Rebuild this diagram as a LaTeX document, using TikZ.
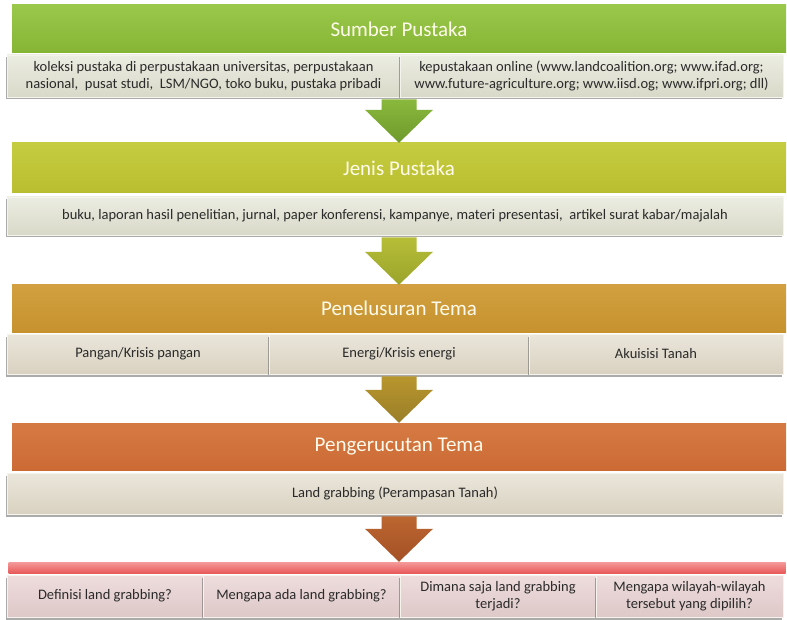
\documentclass[tikz,border=0pt]{standalone}
\usepackage{fontspec}
\setmainfont{Carlito}
\usetikzlibrary{calc,shadows}
\definecolor{hAtop}{HTML}{9AC84A}\definecolor{hAbot}{HTML}{86B536}
\definecolor{hBtop}{HTML}{C6CC40}\definecolor{hBbot}{HTML}{B8BE2E}
\definecolor{hCtop}{HTML}{D2A040}\definecolor{hCbot}{HTML}{C6922E}
\definecolor{hDtop}{HTML}{D67A44}\definecolor{hDbot}{HTML}{CC6A34}
\definecolor{hEtop}{HTML}{F59A9A}\definecolor{hEbot}{HTML}{E85A5A}
\definecolor{aAtop}{HTML}{8AB83C}\definecolor{aAbot}{HTML}{6E9A2C}
\definecolor{aBtop}{HTML}{B6BE38}\definecolor{aBbot}{HTML}{9AA42A}
\definecolor{aCtop}{HTML}{B8962E}\definecolor{aCbot}{HTML}{9A7E28}
\definecolor{aDtop}{HTML}{BC6630}\definecolor{aDbot}{HTML}{A45026}
\definecolor{sGtop}{HTML}{ECEDE2}\definecolor{sGbot}{HTML}{D8D9C8}
\definecolor{sBtop}{HTML}{EAE6DA}\definecolor{sBbot}{HTML}{D9D2C2}
\definecolor{sPtop}{HTML}{EEDCDC}\definecolor{sPbot}{HTML}{DEC8C8}
\definecolor{subline}{HTML}{F4F4EC}
\definecolor{subtext}{HTML}{2A2A2A}
\definecolor{hdrtext}{HTML}{FFFBEC}
\newcommand\flowarrow[4]{%
  \shade[top color=#3, bottom color=#4]
    ($(#1)+(-17.5,0)$) -- ($(#1)+(17.5,0)$) -- ($(#2)+(17.5,-33)$) --
    ($(#2)+(34,-33)$) -- (#2) -- ($(#2)+(-34,-33)$) --
    ($(#2)+(-17.5,-33)$) -- cycle;}
\begin{document}
\begin{tikzpicture}[x=1pt,y=-1pt,
  hdr/.style={rectangle, inner sep=0pt, text=hdrtext,
    font=\fontsize{21}{24}\selectfont, minimum width=774pt},
  sub/.style={rectangle, inner sep=0pt, align=center, text=subtext,
    font=\fontsize{14.5}{17}\selectfont, draw=subline, line width=0.6pt,
    drop shadow={shadow xshift=-0.8pt, shadow yshift=-2.5pt,
      fill=black!60, opacity=0.55}},
  subG/.style={sub, top color=sGtop, bottom color=sGbot},
  subB/.style={sub, top color=sBtop, bottom color=sBbot},
  subP/.style={sub, top color=sPtop, bottom color=sPbot},
]
\useasboundingbox (0,0) rectangle (787,620);
\fill[white] (0,0) rectangle (787,620);

% headers
\node[hdr, minimum height=48pt, top color=hAtop, bottom color=hAbot] (h1) at (399,29) {Sumber Pustaka};
\node[hdr, minimum height=50pt, top color=hBtop, bottom color=hBbot] (h2) at (399,168) {Jenis Pustaka};
\node[hdr, minimum height=47pt, top color=hCtop, bottom color=hCbot] (h3) at (399,308.5) {Penelusuran Tema};
\node[hdr, minimum height=47pt, top color=hDtop, bottom color=hDbot] (h4) at (399,446.5) {Pengerucutan Tema};
\node[hdr, minimum width=777pt, minimum height=11pt, top color=hEtop, bottom color=hEbot] (h5) at (397,567.5) {};

% sub boxes
\node[subG, minimum width=393pt, minimum height=42pt] (r1a) at (203.5,76)
  {koleksi pustaka di perpustakaan universitas, perpustakaan\\nasional,\ \ pusat studi,\ \ LSM/NGO, toko buku, pustaka pribadi};
\node[subG, minimum width=383pt, minimum height=42pt] (r1b) at (591.5,76)
  {kepustakaan online (www.landcoalition.org; www.ifad.org;\\www.future-agriculture.org; www.iisd.og; www.ifpri.org; dll)};
\node[subG, minimum width=776pt, minimum height=38pt] (r2) at (395,216)
  {buku, laporan hasil penelitian, jurnal, paper konferensi, kampanye, materi presentasi,\ \ artikel surat kabar/majalah};
\node[subB, minimum width=262pt, minimum height=40pt] (r3a) at (138,354) {Pangan/Krisis pangan};
\node[subB, minimum width=260pt, minimum height=40pt] (r3b) at (399,354) {Energi/Krisis energi};
\node[subB, minimum width=254pt, minimum height=40pt] (r3c) at (656,354) {Akuisisi Tanah};
\node[subB, minimum width=776pt, minimum height=41pt] (r4) at (395,493.5) {Land grabbing (Perampasan Tanah)};
\node[subP, minimum width=196pt, minimum height=42pt] (r5a) at (105,596) {Definisi land grabbing?};
\node[subP, minimum width=197pt, minimum height=42pt] (r5b) at (301.5,596) {Mengapa ada land grabbing?};
\node[subP, minimum width=196pt, minimum height=42pt] (r5c) at (498,596) {Dimana saja land grabbing\\terjadi?};
\node[subP, minimum width=187pt, minimum height=42pt] (r5d) at (689.5,596) {Mengapa wilayah-wilayah\\tersebut yang dipilih?};

% arrows
\coordinate (s1) at ($(h2.north |- r1a.south)+(0,2)$);
\coordinate (s2) at ($(h3.north |- r2.south)+(0,2)$);
\coordinate (s3) at ($(h4.north |- r3b.south)+(0,2)$);
\coordinate (s4) at (h5.north -| h4.south);
\coordinate (s4a) at ($(h4.south |- r4.south)+(0,2)$);
\flowarrow{s1}{h2.north}{aAtop}{aAbot}
\flowarrow{s2}{h3.north}{aBtop}{aBbot}
\flowarrow{s3}{h4.north}{aCtop}{aCbot}
\flowarrow{s4a}{s4}{aDtop}{aDbot}
\end{tikzpicture}
\end{document}
